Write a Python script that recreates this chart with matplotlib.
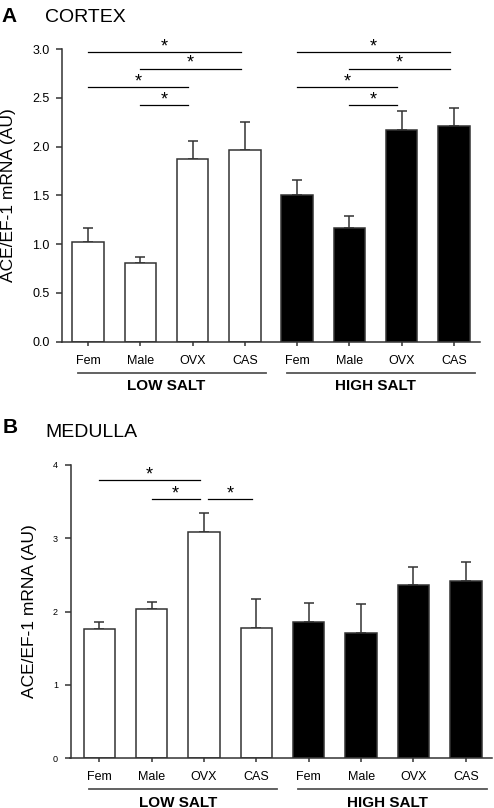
import numpy as np
import matplotlib
matplotlib.use("Agg")
import matplotlib.pyplot as plt

plt.rcParams['font.family'] = ['Liberation Sans', 'DejaVu Sans']

############################################
# DATA
############################################
groups = ["Fem", "Male", "OVX", "CAS"]
salts = ["LOW SALT", "HIGH SALT"]
ylabel = "ACE/EF-1 mRNA (AU)"

# cortex: low salt then high salt
cortex_mean = [1.02, 0.81, 1.87, 1.96, 1.50, 1.165, 2.165, 2.21]
cortex_sem = [0.15, 0.055, 0.19, 0.29, 0.16, 0.125, 0.20, 0.19]
cortex_ticks = [0.0, 0.5, 1.0, 1.5, 2.0, 2.5, 3.0]
# (from bar, to bar, height)
cortex_sig = [(0, 3, 2.965), (1, 3, 2.80), (0, 2, 2.61), (1, 2, 2.425),
              (4, 7, 2.965), (5, 7, 2.80), (4, 6, 2.61), (5, 6, 2.425)]

# medulla
medulla_mean = [1.76, 2.04, 3.08, 1.78, 1.85, 1.70, 2.36, 2.42]
medulla_sem = [0.09, 0.09, 0.27, 0.39, 0.26, 0.40, 0.25, 0.25]
medulla_ticks = [0, 1, 2, 3, 4]
medulla_sig = [(0, 2, 3.79), (1, 2, 3.53), (2.07, 3, 3.53)]

bar_colors = ["white"] * 4 + ["black"] * 4
EDGE = "#333333"

W, H = 494, 808
fig = plt.figure(figsize=(W / 100, H / 100), dpi=100)


def px_axes(left, top, right, bottom):
    return fig.add_axes([left / W, 1 - bottom / H, (right - left) / W, (bottom - top) / H])


def draw_panel(ax, means, sems, ticks, ytick_fmt, ytick_size, sig, xlim):
    x = np.arange(len(means))
    lower = np.zeros(len(sems))
    ax.bar(x, means, width=0.6, color=bar_colors, edgecolor=EDGE, linewidth=1.1, zorder=2)
    ax.errorbar(x, means, yerr=[lower, sems], fmt="none", ecolor=EDGE,
                elinewidth=1.1, capsize=3.5, capthick=1.1, zorder=1)
    ax.set_xlim(*xlim)
    ax.set_ylim(ticks[0], ticks[-1])
    ax.set_yticks(ticks)
    ax.set_yticklabels([ytick_fmt.format(t) for t in ticks], fontsize=ytick_size)
    ax.set_xticks(x)
    ax.set_xticklabels(groups * 2, fontsize=9)
    for s in ["top", "right"]:
        ax.spines[s].set_visible(False)
    for s in ["left", "bottom"]:
        ax.spines[s].set_color(EDGE)
        ax.spines[s].set_linewidth(1.1)
    ax.tick_params(axis="x", length=3, width=1.1, color=EDGE, pad=6.5)
    ax.tick_params(axis="y", length=4, width=1.1, color=EDGE, pad=5)
    ax.set_ylabel(ylabel, fontsize=12.5)

    for a, b, h in sig:
        ax.plot([a, b - 0.08], [h, h], color="black", lw=0.9, clip_on=False)
        ax.annotate("*", xy=((a + b - 0.08) / 2, h), xytext=(0, 0.5),
                    textcoords="offset points", ha="center", va="baseline",
                    fontsize=13, annotation_clip=False)

    tr = ax.get_xaxis_transform()
    for k, name in enumerate(salts):
        lo, hi = 4 * k - 0.2, 4 * k + 3.4
        ax.plot([lo, hi], [-0.106, -0.106], transform=tr, color="#555555",
                lw=1.3, clip_on=False)
        ax.text(4 * k + 1.5, -0.152, name, transform=tr, ha="center", va="center",
                fontsize=11, fontweight="bold")


############################################
# PANEL A: CORTEX
############################################
axA = px_axes(62, 49, 480, 341.7)
draw_panel(axA, cortex_mean, cortex_sem, cortex_ticks, "{:.1f}", 9,
           cortex_sig, (-0.5, 7.5))
axA.yaxis.set_label_coords(-0.111, 0.5)

############################################
# PANEL B: MEDULLA
############################################
axB = px_axes(70.5, 465, 492, 758)
draw_panel(axB, medulla_mean, medulla_sem, medulla_ticks, "{:d}", 6.5,
           medulla_sig, (-0.55, 7.5))
axB.yaxis.set_label_coords(-0.08, 0.5)

fig.text(1 / W, 1 - 22 / H, "A", fontsize=15, fontweight="bold", va="baseline")
fig.text(45 / W, 1 - 22 / H, "CORTEX", fontsize=14, va="baseline")
fig.text(3 / W, 1 - 433 / H, "B", fontsize=15, fontweight="bold", va="baseline")
fig.text(45 / W, 1 - 437 / H, "MEDULLA", fontsize=14, va="baseline")

fig.savefig("out.png", dpi=100)
